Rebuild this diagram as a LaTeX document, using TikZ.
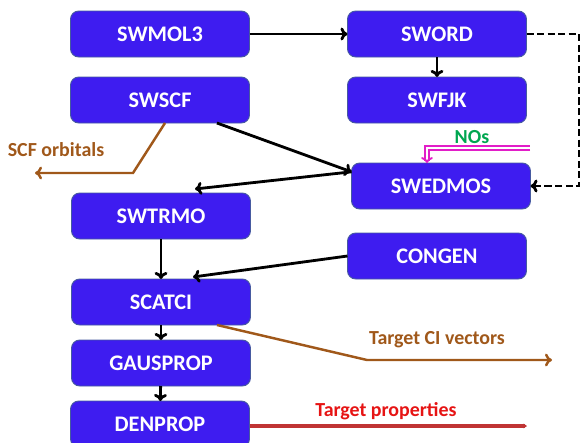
\documentclass[tikz,border=0pt]{standalone}
\usepackage{fontspec}
\setmainfont{Carlito}
\usepackage{tikz}
\usetikzlibrary{positioning,calc,arrows.meta}
\definecolor{boxblue}{RGB}{62,28,240}
\definecolor{boxedge}{RGB}{70,90,160}
\definecolor{orbbrown}{RGB}{160,88,26}
\definecolor{propred}{RGB}{230,20,20}
\definecolor{proplinered}{RGB}{192,52,52}
\definecolor{nogreen}{RGB}{0,166,80}
\definecolor{nomagenta}{RGB}{226,30,200}

\begin{document}
\begin{tikzpicture}[x=0.03cm,y=-0.03cm]
    %styles
    \tikzstyle{prog}=[rectangle,rounded corners=7pt,draw=boxedge,line width=0.8pt,fill=boxblue,
        minimum width=5.37cm,minimum height=1.38cm,inner sep=0pt,outer sep=0pt,
        text=white,font=\fontsize{19}{22}\selectfont\bfseries]
    \tikzstyle{flow}=[-{To[length=6pt,width=11pt]},line width=2.4pt]
    \tikzstyle{feed}=[-{To[length=6pt,width=11pt]},line width=2.4pt,dash pattern=on 6pt off 3pt]
    \tikzstyle{outp}=[-{To[length=6pt,width=11pt]},line width=2.1pt]
    \tikzstyle{lbl}=[font=\fontsize{17}{19}\selectfont\bfseries]
    \useasboundingbox (0,0) rectangle (581,443);
    %nodes
    \node[prog] (swmol) at (160,34) {SWMOL3};
    \node[prog] (sword) at (437,34) {SWORD};
    \node[prog] (swscf) at (160,100) {SWSCF};
    \node[prog] (swfjk) at (437,100) {SWFJK};
    \node[prog] (swedmos) at (441,186) {SWEDMOS};
    \node[prog] (swtrmo) at (161,216) {SWTRMO};
    \node[prog] (congen) at (437,256) {CONGEN};
    \node[prog] (scatci) at (161,302) {SCATCI};
    \node[prog] (gausprop) at (161,363) {GAUSPROP};
    \node[prog] (denprop) at (160,424) {DENPROP};

    \node[lbl,text=orbbrown] (scflbl) at (56,150) {SCF orbitals};
    \node[lbl,text=orbbrown] (cilbl) at (437,340) {Target CI vectors};
    \node[lbl,text=propred] (proplbl) at (386,411) {Target properties};
    \node[lbl,text=nogreen] (nolbl) at (472,137) {NOs};

    \coordinate (dashcorner) at (579,34);
    \coordinate (scfbend) at (133,173);
    \coordinate (scfend) at (35,173);
    \coordinate (cibend) at (367,360);
    \coordinate (ciend) at (552,360);
    \coordinate (propend) at (527,426);
    \coordinate (nostart) at (530,148);

    %arrows
    \draw[flow] (swmol)--(sword);
    \draw[flow] (sword)--(swfjk);
    \draw[feed] (sword.east)--(dashcorner) |- (swedmos.east);
    \draw[flow] (swscf.-22.5)--(swedmos.171);
    \draw[flow] (swedmos.171)--($(swtrmo.north)+(34,-4)$);
    \draw[flow] (congen.west)--($(scatci.north)+(32,-2)$);
    \draw[flow] (swtrmo)--(scatci);
    \draw[flow] (scatci)--(gausprop);
    \draw[flow] (gausprop)--(denprop);

    \draw[outp,orbbrown] ($(swscf.south)+(5,0)$)--(scfbend)--(scfend);
    \draw[outp,orbbrown] ($(scatci.south)+(56,0)$)--(cibend)--(ciend);
    \draw[line width=3pt,proplinered,-{Stealth[length=3pt,width=4pt]}] (denprop.east |- propend)--(propend);
    \draw[-{To[length=5pt,width=10pt]},draw=nomagenta,double=white,line width=1.6pt,double distance=2.2pt]
        (nostart) -| ($(swedmos.north)+(-14,0)$);

    \end{tikzpicture}
\end{document}
